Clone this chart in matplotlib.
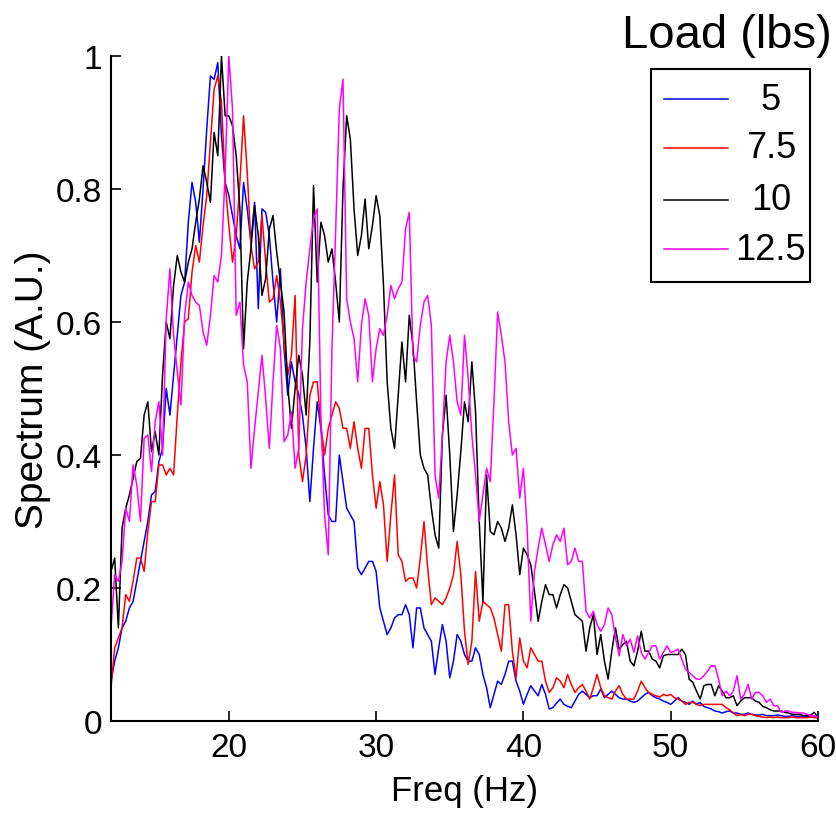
import numpy as np
import matplotlib
matplotlib.use("Agg")
import matplotlib.pyplot as plt
from matplotlib import font_manager as fm
from matplotlib.lines import Line2D
from matplotlib.patches import Rectangle

# Frequency axis (Hz), 0.25 Hz resolution
freq = np.arange(12.0, 60.001, 0.25)

# Normalised spectra for each load (one row per Hz: f, f+.25, f+.5, f+.75)
load_5 = [
    0.06, 0.09, 0.11, 0.14,
    0.15, 0.17, 0.18, 0.21,
    0.24, 0.27, 0.30, 0.34,
    0.345, 0.39, 0.41, 0.50,
    0.46, 0.52, 0.58, 0.64,
    0.66, 0.75, 0.81, 0.78,
    0.72, 0.80, 0.89, 0.97,
    0.965, 0.99, 0.88, 0.81,
    0.79, 0.76, 0.73, 0.71,
    0.81, 0.77, 0.72, 0.78,
    0.62, 0.77, 0.765, 0.73,
    0.66, 0.60, 0.68, 0.56,
    0.49, 0.54, 0.51, 0.49,
    0.46, 0.41, 0.33, 0.41,
    0.48, 0.44, 0.37, 0.31,
    0.30, 0.30, 0.40, 0.36,
    0.32, 0.31, 0.30, 0.23,
    0.22, 0.23, 0.24, 0.24,
    0.225, 0.17, 0.15, 0.13,
    0.14, 0.155, 0.16, 0.16,
    0.175, 0.16, 0.11, 0.17,
    0.17, 0.14, 0.13, 0.12,
    0.07, 0.11, 0.145, 0.12,
    0.065, 0.09, 0.13, 0.12,
    0.10, 0.09, 0.09, 0.11,
    0.10, 0.07, 0.05, 0.02,
    0.04, 0.06, 0.055, 0.07,
    0.09, 0.09, 0.06, 0.045,
    0.025, 0.04, 0.053, 0.045,
    0.038, 0.055, 0.04, 0.018,
    0.02, 0.027, 0.033, 0.025,
    0.022, 0.02, 0.03, 0.04,
    0.045, 0.04, 0.035, 0.038,
    0.038, 0.048, 0.035, 0.04,
    0.045, 0.04, 0.035, 0.033,
    0.033, 0.03, 0.028, 0.03,
    0.035, 0.04, 0.043, 0.038,
    0.035, 0.033, 0.03, 0.028,
    0.025, 0.03, 0.035, 0.03,
    0.028, 0.025, 0.03, 0.025,
    0.028, 0.022, 0.02, 0.018,
    0.015, 0.014, 0.012, 0.014,
    0.015, 0.012, 0.012, 0.01,
    0.01, 0.012, 0.01, 0.009,
    0.009, 0.01, 0.008, 0.008,
    0.008, 0.009, 0.008, 0.007,
    0.007, 0.008, 0.007, 0.007,
    0.006, 0.007, 0.006, 0.006,
    0.005,
]

load_7_5 = [
    0.05, 0.11, 0.125, 0.14,
    0.19, 0.18, 0.21, 0.245,
    0.245, 0.225, 0.285, 0.33,
    0.33, 0.385, 0.385, 0.37,
    0.38, 0.37, 0.46, 0.54,
    0.60, 0.605, 0.675, 0.715,
    0.69, 0.745, 0.79, 0.87,
    0.95, 0.97, 0.93, 0.81,
    0.745, 0.69, 0.73, 0.81,
    0.91, 0.825, 0.715, 0.68,
    0.69, 0.76, 0.69, 0.63,
    0.635, 0.67, 0.63, 0.57,
    0.52, 0.55, 0.64, 0.40,
    0.36, 0.40, 0.49, 0.51,
    0.51, 0.445, 0.40, 0.44,
    0.46, 0.48, 0.47, 0.44,
    0.44, 0.41, 0.45, 0.41,
    0.38, 0.44, 0.44, 0.37,
    0.32, 0.36, 0.325, 0.24,
    0.31, 0.37, 0.25, 0.24,
    0.21, 0.215, 0.215, 0.20,
    0.245, 0.30, 0.23, 0.175,
    0.185, 0.18, 0.175, 0.185,
    0.20, 0.22, 0.27, 0.22,
    0.135, 0.085, 0.12, 0.225,
    0.15, 0.18, 0.175, 0.17,
    0.155, 0.13, 0.105, 0.175,
    0.175, 0.105, 0.065, 0.125,
    0.09, 0.08, 0.11, 0.10,
    0.09, 0.09, 0.06, 0.043,
    0.05, 0.065, 0.06, 0.05,
    0.07, 0.055, 0.043, 0.05,
    0.055, 0.045, 0.033, 0.05,
    0.07, 0.05, 0.038, 0.035,
    0.033, 0.045, 0.053, 0.04,
    0.033, 0.033, 0.033, 0.045,
    0.06, 0.05, 0.043, 0.04,
    0.038, 0.036, 0.04, 0.038,
    0.04, 0.035, 0.033, 0.03,
    0.025, 0.028, 0.028, 0.025,
    0.023, 0.025, 0.025, 0.025,
    0.025, 0.025, 0.025, 0.02,
    0.017, 0.012, 0.008, 0.01,
    0.008, 0.01, 0.01, 0.008,
    0.007, 0.006, 0.005, 0.006,
    0.005, 0.006, 0.005, 0.005,
    0.005, 0.006, 0.005, 0.005,
    0.005, 0.005, 0.006, 0.005,
    0.005,
]

load_10 = [
    0.225, 0.245, 0.14, 0.29,
    0.32, 0.34, 0.365, 0.39,
    0.395, 0.46, 0.48, 0.405,
    0.435, 0.40, 0.52, 0.60,
    0.575, 0.655, 0.70, 0.675,
    0.66, 0.69, 0.71, 0.75,
    0.785, 0.835, 0.81, 0.78,
    0.885, 0.85, 1.0, 0.91,
    0.91, 0.895, 0.85, 0.77,
    0.56, 0.66, 0.71, 0.775,
    0.73, 0.64, 0.665, 0.74,
    0.76, 0.705, 0.66, 0.615,
    0.505, 0.44, 0.50, 0.55,
    0.52, 0.46, 0.57, 0.805,
    0.66, 0.75, 0.73, 0.69,
    0.71, 0.66, 0.60, 0.80,
    0.91, 0.875, 0.77, 0.70,
    0.73, 0.785, 0.71, 0.745,
    0.79, 0.76, 0.655, 0.51,
    0.44, 0.41, 0.49, 0.57,
    0.51, 0.61, 0.565, 0.48,
    0.40, 0.38, 0.37, 0.32,
    0.28, 0.26, 0.43, 0.49,
    0.40, 0.285, 0.34, 0.405,
    0.48, 0.45, 0.54, 0.465,
    0.30, 0.18, 0.37, 0.285,
    0.28, 0.30, 0.29, 0.27,
    0.29, 0.325, 0.28, 0.22,
    0.26, 0.25, 0.235, 0.195,
    0.15, 0.18, 0.205, 0.19,
    0.19, 0.17, 0.19, 0.205,
    0.20, 0.18, 0.16, 0.155,
    0.15, 0.105, 0.14, 0.16,
    0.10, 0.13, 0.09, 0.063,
    0.105, 0.14, 0.108, 0.115,
    0.12, 0.09, 0.083, 0.105,
    0.135, 0.105, 0.105, 0.093,
    0.09, 0.08, 0.098, 0.10,
    0.10, 0.10, 0.10, 0.108,
    0.10, 0.063, 0.058, 0.045,
    0.033, 0.053, 0.055, 0.055,
    0.038, 0.053, 0.045, 0.035,
    0.035, 0.038, 0.023, 0.03,
    0.035, 0.035, 0.035, 0.03,
    0.028, 0.022, 0.02, 0.017,
    0.015, 0.015, 0.015, 0.013,
    0.012, 0.01, 0.01, 0.01,
    0.008, 0.008, 0.009, 0.013,
    0.005,
]

load_12_5 = [
    0.14, 0.22, 0.21, 0.24,
    0.32, 0.30, 0.385, 0.355,
    0.30, 0.425, 0.43, 0.375,
    0.45, 0.48, 0.40, 0.605,
    0.68, 0.58, 0.525, 0.475,
    0.61, 0.66, 0.64, 0.63,
    0.625, 0.585, 0.565, 0.61,
    0.67, 0.66, 0.70, 0.825,
    1.0, 0.92, 0.61, 0.63,
    0.535, 0.51, 0.38, 0.44,
    0.495, 0.55, 0.485, 0.41,
    0.51, 0.595, 0.56, 0.42,
    0.43, 0.465, 0.38, 0.41,
    0.59, 0.66, 0.71, 0.755,
    0.77, 0.46, 0.31, 0.25,
    0.56, 0.735, 0.92, 0.965,
    0.635, 0.60, 0.575, 0.51,
    0.595, 0.635, 0.61, 0.51,
    0.56, 0.59, 0.58, 0.61,
    0.655, 0.635, 0.65, 0.66,
    0.74, 0.765, 0.55, 0.54,
    0.595, 0.63, 0.64, 0.595,
    0.37, 0.335, 0.43, 0.54,
    0.58, 0.54, 0.48, 0.46,
    0.58, 0.515, 0.43, 0.37,
    0.30, 0.34, 0.38, 0.36,
    0.48, 0.615, 0.58, 0.54,
    0.45, 0.40, 0.41, 0.335,
    0.38, 0.29, 0.15, 0.225,
    0.26, 0.29, 0.265, 0.24,
    0.265, 0.28, 0.27, 0.29,
    0.235, 0.24, 0.26, 0.24,
    0.24, 0.165, 0.155, 0.165,
    0.145, 0.135, 0.145, 0.17,
    0.16, 0.125, 0.098, 0.13,
    0.113, 0.123, 0.103, 0.128,
    0.103, 0.093, 0.103, 0.113,
    0.113, 0.093, 0.103, 0.113,
    0.103, 0.105, 0.108, 0.093,
    0.078, 0.073, 0.068, 0.063,
    0.063, 0.068, 0.075, 0.083,
    0.083, 0.063, 0.038, 0.045,
    0.038, 0.045, 0.068, 0.033,
    0.04, 0.055, 0.033, 0.043,
    0.043, 0.038, 0.028, 0.033,
    0.023, 0.023, 0.013, 0.015,
    0.015, 0.013, 0.013, 0.012,
    0.012, 0.01, 0.008, 0.008,
    0.006,
]

load_labels = ["5", "7.5", "10", "12.5"]
line_colors = ["#0000ff", "#ff0000", "#000000", "#ff00ff"]
x_ticks = [20, 30, 40, 50, 60]
y_ticks = [0, 0.2, 0.4, 0.6, 0.8, 1.0]
y_tick_labels = ["0", "0.2", "0.4", "0.6", "0.8", "1"]

series = [load_5, load_7_5, load_10, load_12_5]
for s in series:
    assert len(s) == len(freq)

# Fonts: a narrow sans (if installed) for the horizontal text
available = {f.name for f in fm.fontManager.ttflist}
regular = "Liberation Sans"
if "Liberation Sans Narrow" in available:
    narrow, small_size = "Liberation Sans Narrow", 28
else:
    narrow, small_size = regular, 24

W, H = 836, 820


def fx(px):
    return px / W


def fy(py):
    return 1 - py / H


fig = plt.figure(figsize=(W / 100, H / 100), dpi=100)
fig.patch.set_facecolor("white")
ax = fig.add_axes([fx(111), fy(722), fx(818) - fx(111), fy(57) - fy(722)])

lines = []
for vals, lab, col in zip(series, load_labels, line_colors):
    (ln,) = ax.plot(freq, vals, color=col, lw=1.1, label=lab)
    lines.append(ln)

ax.set_xlim(12, 60)
ax.set_ylim(0, 1)
ax.set_xticks(x_ticks)
ax.set_xticklabels([str(t) for t in x_ticks])
ax.set_yticks(y_ticks)
ax.set_yticklabels(y_tick_labels)
for side in ("top", "right"):
    ax.spines[side].set_visible(False)
for side in ("left", "bottom"):
    ax.spines[side].set_linewidth(1.5)
ax.tick_params(direction="in", length=7, width=1.2, labelsize=small_size, colors="black")
ax.tick_params(axis="x", pad=8)
ax.tick_params(axis="y", pad=6.5)
for lbl in ax.get_xticklabels() + ax.get_yticklabels():
    lbl.set_fontfamily(narrow)

ax.set_xlabel("Freq (Hz)", fontsize=small_size + 1, fontfamily=narrow)
ax.set_ylabel("Spectrum (A.U.)", fontsize=28, fontfamily=regular)
ax.xaxis.set_label_coords(0.5, -0.08)
ax.yaxis.set_label_coords(-0.085, 0.5)

# Legend: framed box with sample lines and centred labels, title above the frame
box = Rectangle((fx(651), fy(283)), fx(810) - fx(651), fy(70) - fy(283),
                transform=fig.transFigure, fill=False, edgecolor="black", lw=1.5)
fig.add_artist(box)
row_y = [100, 149, 201, 250]
for ln, lab, ry in zip(lines, load_labels, row_y):
    fig.add_artist(Line2D([fx(664), fx(728)], [fy(ry), fy(ry)], transform=fig.transFigure,
                          color=ln.get_color(), lw=1.1))
    fig.text(fx(771), fy(ry), lab, ha="center", va="center", fontsize=small_size + 2,
             fontfamily=narrow)
fig.text(fx(727), fy(36), "Load (lbs)", ha="center", va="center", fontsize=34, fontfamily=regular)

fig.savefig("out.png", dpi=100)
